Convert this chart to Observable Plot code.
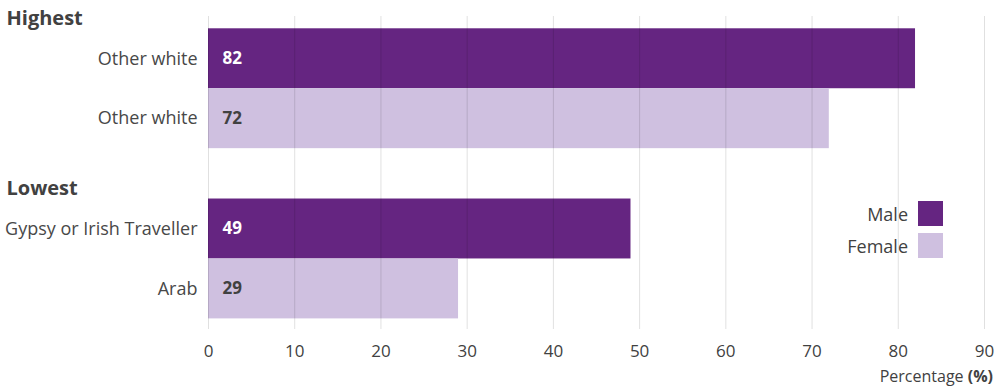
<!DOCTYPE html>
<html>
<head>
<meta charset="utf-8">
<script src="https://cdn.jsdelivr.net/npm/d3@7"></script>
<script src="https://cdn.jsdelivr.net/npm/@observablehq/plot@0.6"></script>
<style>
  html, body { margin: 0; padding: 0; background: #fff; }
  body { font-family: "Open Sans", sans-serif; color: #414141; }
  #wrap { position: relative; width: 1000px; height: 391px; }
  #xlabel { position: absolute; right: 7px; top: 365px; font-size: 16px; color: #414141; }
  #legend { position: absolute; left: 780px; top: 201px; width: 163px; }
  .li { display: flex; justify-content: flex-end; align-items: center; height: 25px; margin-bottom: 7px; font-size: 18px; }
  .sw { width: 25px; height: 25px; margin-left: 10px; }
</style>
</head>
<body>
<div id="wrap"></div>
<script>
// Data
const groups = ["Highest", "Highest", "Lowest", "Lowest"];
const categories = ["Other white", "Other white", "Gypsy or Irish Traveller", "Arab"];
const sexes = ["Male", "Female", "Male", "Female"];
const values = [82, 72, 49, 29];
const xTicks = [0, 10, 20, 30, 40, 50, 60, 70, 80, 90];
const seriesNames = ["Male", "Female"];
const seriesColors = ["#652581", "#cfc0e0"];
const labelColors = ["#ffffff", "#414141"];

// Layout in row units (one bar = one row)
const groupNames = Array.from(new Set(groups));
const groupStep = 2.84;
const rows = values.map((v, i) => {
  const g = groupNames.indexOf(groups[i]);
  const within = groups.slice(0, i).filter(d => d === groups[i]).length;
  const top = g * groupStep + within;
  return {group: groups[i], category: categories[i], sex: sexes[i], value: v, y1: top, y2: top + 1, yc: top + 0.5};
});
const headers = groupNames.map((name, g) => ({name, y: g * groupStep - 0.17}));

const color = d3.scaleOrdinal(seriesNames, seriesColors);
const lcolor = d3.scaleOrdinal(seriesNames, labelColors);

const chart = Plot.plot({
  width: 1000,
  height: 391,
  marginLeft: 208,
  marginRight: 16,
  marginTop: 16,
  marginBottom: 62,
  style: {fontFamily: "Open Sans", fontSize: "16px", color: "#414141", background: "#fff"},
  x: {domain: [0, 90], ticks: xTicks, label: null, tickSize: 0, tickPadding: 16},
  y: {domain: [5.017, -0.205], axis: null},
  marks: [
    Plot.rectX(rows, {x1: 0, x2: "value", y1: "y1", y2: "y2", fill: d => color(d.sex)}),
    Plot.ruleX(xTicks, {stroke: "#000", strokeOpacity: 0.12}),
    Plot.axisX({ticks: xTicks, tickSize: 0, tickPadding: 15, fontSize: 17, label: null}),
    Plot.text(rows, {x: 0, y: "yc", text: d => String(d.value), dx: 14, textAnchor: "start", fontWeight: "bold", fontSize: 17, fill: d => lcolor(d.sex)}),
    Plot.text(rows, {x: 0, y: "yc", text: "category", dx: -11, textAnchor: "end", fontSize: 18, fill: "#484848"}),
    Plot.text(headers, {x: 0, y: "y", text: "name", dx: -202, textAnchor: "start", fontWeight: "bold", fontSize: 20, fill: "#414141"})
  ]
});

const wrap = document.getElementById("wrap");
wrap.appendChild(chart);

const xl = document.createElement("div");
xl.id = "xlabel";
xl.innerHTML = "Percentage <b>(%)</b>";
wrap.appendChild(xl);

const lg = document.createElement("div");
lg.id = "legend";
seriesNames.forEach(s => {
  const item = document.createElement("div");
  item.className = "li";
  const t = document.createElement("span");
  t.textContent = s;
  const sw = document.createElement("span");
  sw.className = "sw";
  sw.style.background = color(s);
  item.appendChild(t);
  item.appendChild(sw);
  lg.appendChild(item);
});
wrap.appendChild(lg);
</script>
</body>
</html>
